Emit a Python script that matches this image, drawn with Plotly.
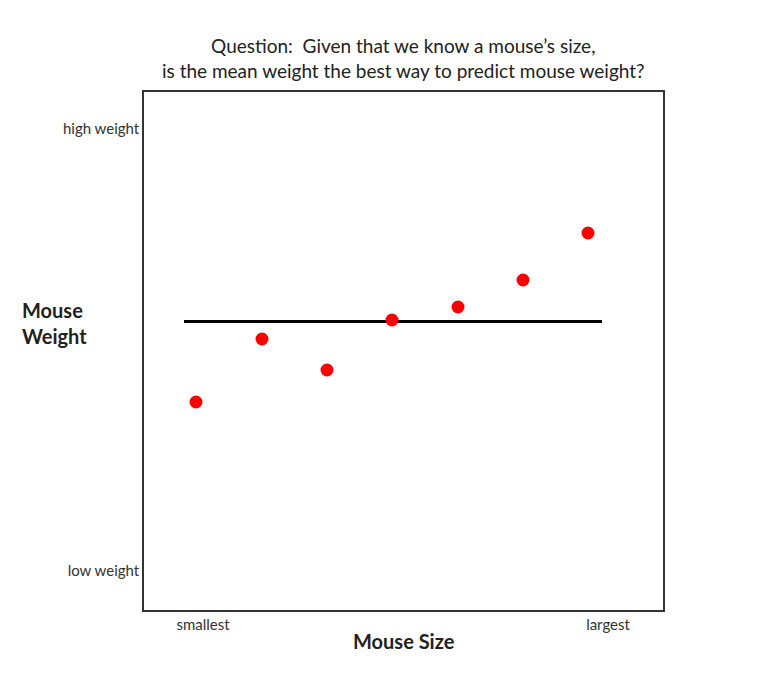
import plotly.graph_objects as go

# mouse size (x) and weight (y), in arbitrary units
mouse_size = [52, 118, 183, 248, 314, 379, 444]
mouse_weight = [208, 271, 240, 290, 303, 330, 377]
mean_weight = sum(mouse_weight) / len(mouse_weight)
mean_line_x = [40, 458]

x_ticks = [59, 464]
x_tick_labels = ['smallest', 'largest']
y_ticks = [39, 481]
y_tick_labels = ['low weight', 'high weight']

font = 'Lato, Open Sans, sans-serif'

fig = go.Figure()
fig.add_trace(go.Scatter(
    x=mean_line_x, y=[mean_weight, mean_weight], mode='lines',
    line=dict(color='black', width=3), hoverinfo='skip'))
fig.add_trace(go.Scatter(
    x=mouse_size, y=mouse_weight, mode='markers',
    marker=dict(color='#ff0000', size=13)))

fig.update_layout(
    width=766, height=686, showlegend=False,
    paper_bgcolor='white', plot_bgcolor='white',
    margin=dict(l=136, r=111, t=84, b=84),
    font=dict(family=font, color='#222'),
    xaxis=dict(range=[0, 519], showgrid=False, zeroline=False,
               showline=True, mirror=True, linecolor='#333', linewidth=1.5,
               tickvals=x_ticks, ticktext=x_tick_labels, ticks='',
               tickfont=dict(size=15, color='#333')),
    yaxis=dict(range=[0, 518], showgrid=False, zeroline=False,
               showline=True, mirror=True, linecolor='#333', linewidth=1.5,
               tickvals=y_ticks, ticktext=y_tick_labels, ticks='',
               tickfont=dict(size=15, color='#333')),
)

fig.add_annotation(x=0.5, y=-0.06, xref='paper', yref='paper', yanchor='middle',
                   text='<b>Mouse Size</b>', showarrow=False,
                   font=dict(size=20, color='#222'))
fig.add_annotation(x=-0.239, y=0.554, xref='paper', yref='paper', xanchor='left',
                   text='<b>Mouse<br>Weight</b>', showarrow=False, align='left',
                   font=dict(size=20, color='#222'))
fig.add_annotation(x=0.5, y=1.0, xref='paper', yref='paper', xanchor='center',
                   yanchor='bottom', yshift=8, align='center', showarrow=False,
                   text='Question:  Given that we know a mouse\u2019s size,<br>'
                        'is the mean weight the best way to predict mouse weight?',
                   font=dict(size=19, color='#222'))

fig.write_html("out.html")
